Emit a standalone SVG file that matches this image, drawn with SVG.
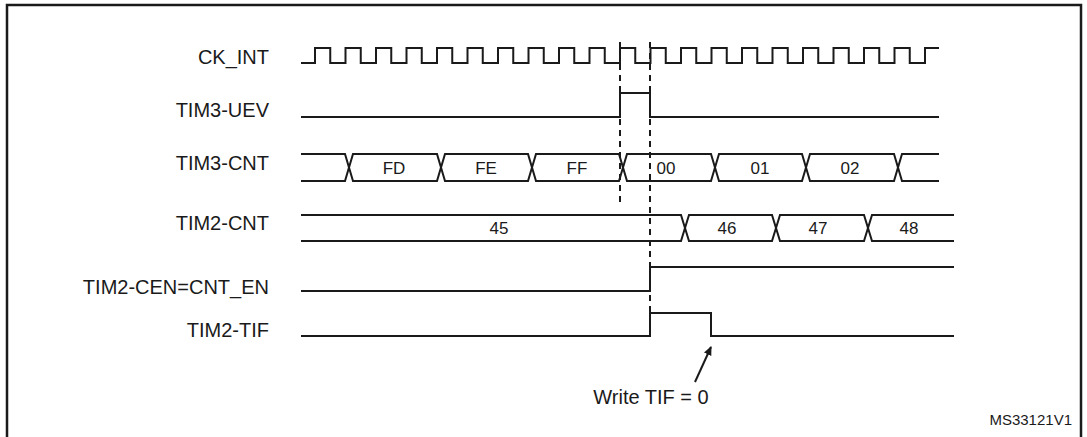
<svg xmlns="http://www.w3.org/2000/svg" width="1087" height="437" viewBox="0 0 1087 437">
<style>
.w{fill:none;stroke:#1a1a1a;stroke-width:2}
.d{fill:none;stroke:#1a1a1a;stroke-width:2;stroke-dasharray:6,5}
text{font-family:"Liberation Sans",Arial,sans-serif;fill:#1a1a1a}
.l{font-size:20px;text-anchor:end}
.v{font-size:17px;text-anchor:middle}
</style>
<defs><marker id="ah" markerWidth="10" markerHeight="10" refX="8" refY="5" orient="auto" markerUnits="userSpaceOnUse"><path d="M0,1 L9,5 L0,9 z" fill="#1a1a1a"/></marker></defs>
<rect x="7" y="5" width="1074" height="440" fill="none" stroke="#1a1a1a" stroke-width="2.5"/>
<g id="labels">
<text class="l" x="269" y="64">CK_INT</text>
<text class="l" x="269" y="117">TIM3-UEV</text>
<text class="l" x="269" y="170">TIM3-CNT</text>
<text class="l" x="269" y="230">TIM2-CNT</text>
<text class="l" x="269" y="294">TIM2-CEN=CNT_EN</text>
<text class="l" x="269" y="337">TIM2-TIF</text>
</g>
<g id="ck_int"><path class="w" d="M301,63 H315 V48 H330.25 V63 H345.5 V48 H360.75 V63 H376 V48 H391.25 V63 H406.5 V48 H421.75 V63 H437 V48 H452.25 V63 H467.5 V48 H482.75 V63 H498 V48 H513.25 V63 H528.5 V48 H543.75 V63 H559 V48 H574.25 V63 H589.5 V48 H604.75 V63 H620 V48 H635.25 V63 H650.5 V48 H665.75 V63 H681 V48 H696.25 V63 H711.5 V48 H726.75 V63 H742 V48 H757.25 V63 H772.5 V48 H787.75 V63 H803 V48 H818.25 V63 H833.5 V48 H848.75 V63 H864 V48 H879.25 V63 H894.5 V48 H909.75 V63 H925 V48 H939"/></g>
<g id="tim3_uev"><path class="w" d="M301,117 H620 V93 H650 V117 H939"/></g>
<g id="tim3_cnt">
<path class="w" d="M301,154 H345 L353,181 H437 L445,154 H528 L536,181 H619 L627,154 H711 L719,181 H802 L810,154 H894 L902,181 H939"/>
<path class="w" d="M301,181 H345 L353,154 H437 L445,181 H528 L536,154 H619 L627,181 H711 L719,154 H802 L810,181 H894 L902,154 H939"/>
<text class="v" x="394" y="174">FD</text><text class="v" x="486" y="174">FE</text><text class="v" x="577" y="174">FF</text>
<text class="v" x="666" y="174">00</text><text class="v" x="760" y="174">01</text><text class="v" x="850" y="174">02</text>
</g>
<g id="tim2_cnt">
<path class="w" d="M301,215 H681 L689,241 H772 L780,215 H864 L872,241 H954"/>
<path class="w" d="M301,241 H681 L689,215 H772 L780,241 H864 L872,215 H954"/>
<text class="v" x="499" y="234">45</text><text class="v" x="727" y="234">46</text><text class="v" x="818" y="234">47</text><text class="v" x="909" y="234">48</text>
</g>
<g id="tim2_cen"><path class="w" d="M301,291 H650 V267 H954"/></g>
<g id="tim2_tif"><path class="w" d="M301,336 H650 V313 H711 V336 H954"/></g>
<g id="connectors">
<path class="d" d="M620,42 V204"/>
<path class="d" d="M650,42 V313"/>
<path class="w" d="M695,382 L711,347" marker-end="url(#ah)" stroke-width="1.5"/>
</g>
<text x="651" y="404" style="font-size:20px;text-anchor:middle">Write TIF = 0</text>
<text x="1072" y="425" style="font-size:15px;text-anchor:end">MS33121V1</text>
</svg>
